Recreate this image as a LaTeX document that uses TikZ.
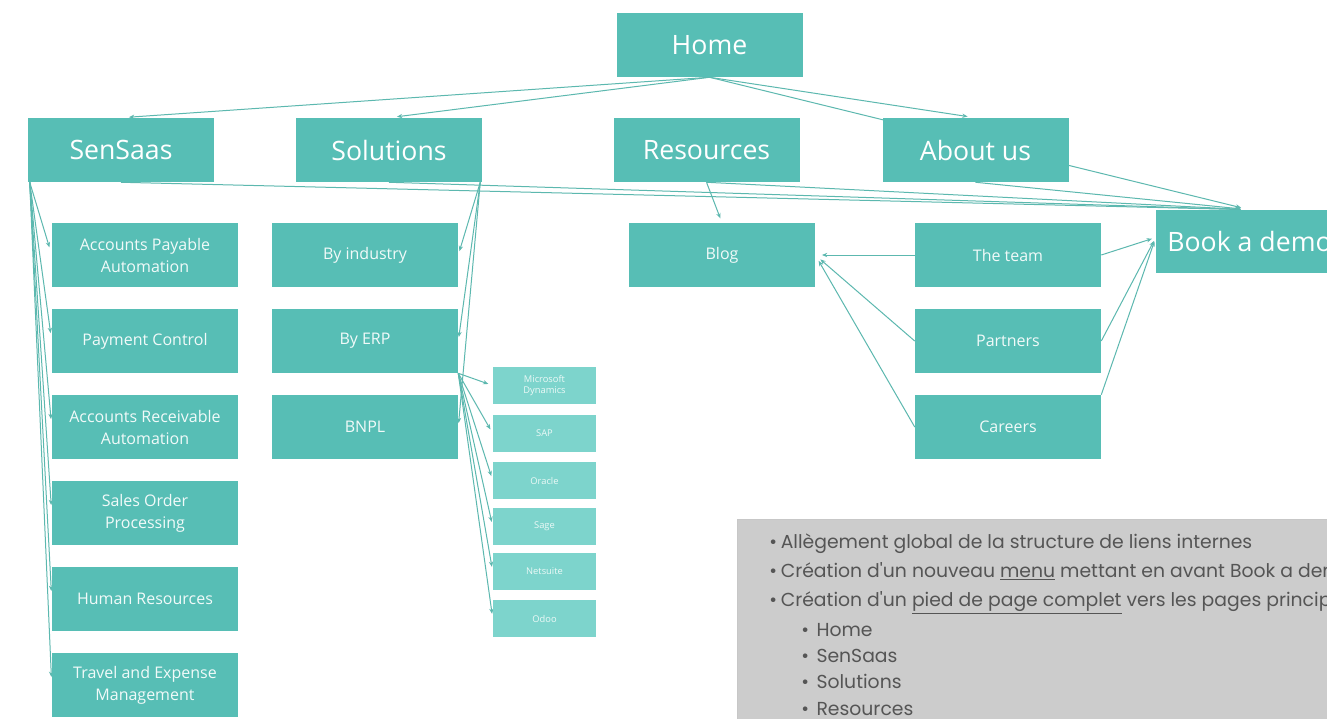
\documentclass[tikz,border=0pt]{standalone}
\usepackage{fontspec}
\setmainfont{Open Sans}
\newfontfamily\notefont{Poppins}
\usetikzlibrary{arrows.meta}
\pgfdeclarelayer{bg}
\pgfsetlayers{bg,main}
\definecolor{tealbox}{HTML}{57BEB5}
\definecolor{tealsmall}{HTML}{7DD4CC}
\definecolor{linec}{HTML}{5CB8AF}
\definecolor{notebg}{HTML}{CCCCCC}
\definecolor{notetxt}{HTML}{555555}
\begin{document}
\begin{tikzpicture}[x=0.75pt,y=-0.75pt,
  topbox/.style={fill=tealbox, inner sep=0pt, minimum width=139.5pt, minimum height=48pt,
    text=white, font=\fontsize{20}{24}\selectfont},
  subbox/.style={fill=tealbox, inner sep=0pt, minimum width=139.5pt, minimum height=48pt,
    text=white!92!tealbox, align=center, font=\fontsize{12}{16.5}\selectfont},
  erpbox/.style={fill=tealsmall, inner sep=0pt, minimum width=77.25pt, minimum height=27.75pt,
    text=white!85!tealsmall, align=center, font=\fontsize{7}{8.5}\selectfont},
  conn/.style={draw=linec, line width=0.75pt, -{Stealth[length=4pt,width=3.2pt]}},
  noteline/.style={anchor=base west, inner sep=0pt, text=notetxt, font=\notefont\fontsize{14.1}{17}\selectfont}
]
\clip (0,0) rectangle (1327,718);

% top level
\node[topbox] (home) at (709.5,45) {Home};
\node[topbox] (sensaas) at (121,150) {SenSaas};
\node[topbox] (solutions) at (389,150) {Solutions};
\node[topbox] (resources) at (706.5,150) {Resources};
\node[topbox] (about) at (975.5,150) {About us};
\node[topbox, minimum width=140.25pt, minimum height=47.25pt] (book) at (1249.5,241.5) {Book a demo};

% SenSaas children
\node[subbox] (ap) at (145,255) {Accounts Payable\\Automation};
\node[subbox] (pc) at (145,341) {Payment Control};
\node[subbox] (ar) at (145,427) {Accounts Receivable\\Automation};
\node[subbox] (so) at (145,513) {Sales Order\\Processing};
\node[subbox] (hr) at (145,599) {Human Resources};
\node[subbox] (te) at (145,685) {Travel and Expense\\Management};

% Solutions children
\node[subbox] (industry) at (365,255) {By industry};
\node[subbox] (erp) at (365,341) {By ERP};
\node[subbox] (bnpl) at (365,427) {BNPL};

% ERP children
\node[erpbox] (e1) at (544.5,385.5) {Microsoft\\Dynamics};
\node[erpbox] (e2) at (544.5,433.5) {SAP};
\node[erpbox] (e3) at (544.5,480.5) {Oracle};
\node[erpbox] (e4) at (544.5,526.5) {Sage};
\node[erpbox] (e5) at (544.5,571.5) {Netsuite};
\node[erpbox] (e6) at (544.5,618.5) {Odoo};

% Resources / About us children
\node[subbox] (blog) at (722,255) {Blog};
\node[subbox] (team) at (1008,255) {The team};
\node[subbox] (partners) at (1008,341) {Partners};
\node[subbox] (careers) at (1008,427) {Careers};

% note box
\node[fill=notebg, draw=black!22, line width=0.5pt, inner sep=0pt, minimum width=452.25pt, minimum height=157.5pt, anchor=north west] (note) at (737,519) {};
\node[noteline] (n1) at (769,548) {•\hspace{0.2em}Allègement global de la structure de liens internes};
\node[noteline] (n2) at (769,577) {•\hspace{0.2em}Création d'un nouveau \underline{menu} mettant en avant Book a demo};
\node[noteline] (n3) at (769,606) {•\hspace{0.2em}Création d'un \underline{pied de page complet} vers les pages principales};
\node[noteline] (n4) at (801,636) {•\hspace{0.4em}Home};
\node[noteline] (n5) at (801,662) {•\hspace{0.4em}SenSaas};
\node[noteline] (n6) at (801,688) {•\hspace{0.4em}Solutions};
\node[noteline] (n7) at (801,715) {•\hspace{0.4em}Resources};

\begin{pgfonlayer}{bg}
  \fill[white] (0,0) rectangle (1327,718);
  % Home
  \draw[conn, shorten >=6pt] (home.south) -- (sensaas.north);
  \draw[conn, shorten >=6pt] (home.south) -- (solutions.north);
  \draw[conn, shorten >=6pt] (home.south) -- (about.north);
  \draw[conn, shorten >=6.5pt] (home.south) -- (book.north);
  % top row to Book a demo
  \draw[conn, shorten >=6.5pt] (sensaas.south) -- (book.north);
  \draw[conn, shorten >=6.5pt] (solutions.south) -- (book.north);
  \draw[conn, shorten >=6.5pt] (resources.south) -- (book.north);
  \draw[conn, shorten >=6.5pt] (about.south) -- (book.north);
  % SenSaas children
  \foreach \c in {ap,pc,ar,so,hr,te}
    \draw[conn, shorten >=6pt] ([xshift=1.5pt]sensaas.south west) -- (\c.west);
  % Solutions children
  \foreach \c in {industry,erp,bnpl}
    \draw[conn, shorten >=3pt] ([xshift=-1.5pt]solutions.south east) -- (\c.east);
  % ERP children
  \foreach \c in {e1,e2,e3,e4,e5,e6}
    \draw[conn, shorten >=3.5pt] (erp.south east) -- (\c.west);
  % Resources
  \draw[conn, shorten >=3.5pt] (resources.south) -- (blog.north);
  % About us children
  \foreach \c in {team,partners,careers}
    \draw[conn, shorten >=5pt] (\c.west) -- (blog.east);
  \draw[conn, shorten >=3pt] (team.east) -- ([yshift=3pt]book.west);
  \draw[conn, shorten >=3pt] (partners.east) -- ([yshift=3pt]book.west);
  \draw[conn, shorten >=3pt] (careers.north east) -- ([yshift=3pt]book.west);
\end{pgfonlayer}
\end{tikzpicture}
\end{document}
